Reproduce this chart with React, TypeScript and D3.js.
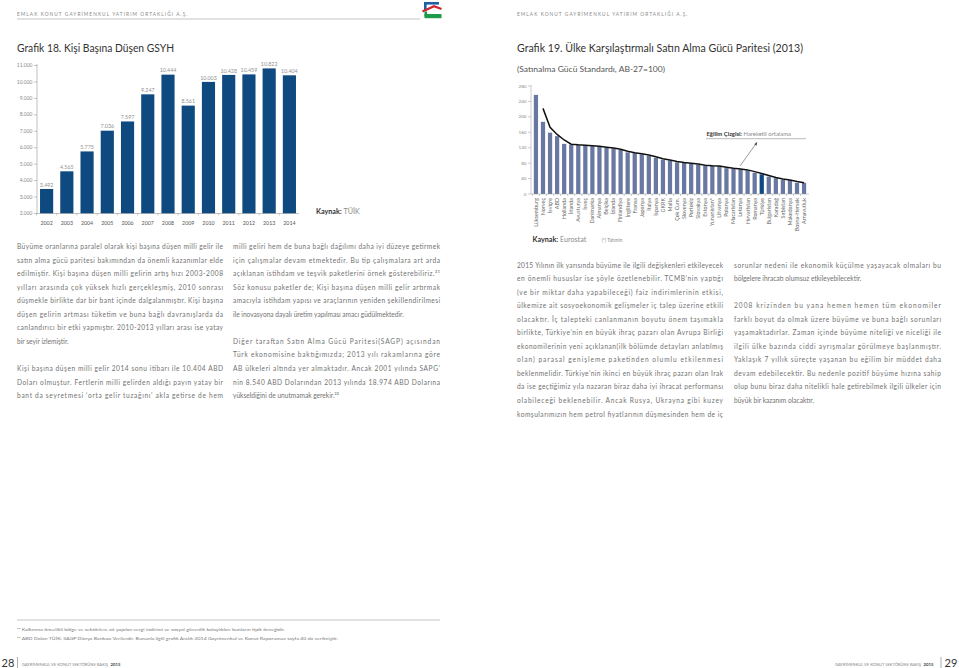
import React from 'react';
import * as d3 from 'd3';

// ---------- DATA ----------
const years = ['2002', '2003', '2004', '2005', '2006', '2007', '2008', '2009', '2010', '2011', '2012', '2013', '2014'];
const gdpPerCapita = [3492, 4565, 5775, 7036, 7597, 9247, 10444, 8561, 10003, 10428, 10459, 10822, 10404];
const gdpTicks = [2000, 3000, 4000, 5000, 6000, 7000, 8000, 9000, 10000, 11000];

const countries = ['Lüksemburg', 'Norveç', 'İsviçre', 'ABD', 'Hollanda', 'İrlanda', 'Avusturya', 'İsveç', 'Danimarka', 'Almanya', 'Belçika', 'İzlanda', 'Finlandiya', 'İngiltere', 'Fransa', 'Japonya', 'İtalya', 'İspanya', 'GKRK', 'Malta', 'Çek Cum.', 'Slovenya', 'Portekiz', 'Slovakya', 'Estonya', 'Yunanistan*', 'Litvanya', 'Polonya', 'Macaristan', 'Letonya', 'Hırvatistan', 'Romanya', 'Türkiye', 'Bulgaristan', 'Karadağ', 'Sırbistan', 'Makedonya', 'Bosna-Hersek', 'Arnavutluk'];
const ppsValues = [257, 187, 159, 150, 130, 128, 127, 126, 124, 123, 120, 118, 114, 108, 106, 103, 99, 94, 89, 87, 82, 81, 79, 76, 73, 73, 72, 67, 66, 64, 61, 55, 51, 45, 41, 37, 36, 29, 29];
const ppsTicks = [0, 40, 80, 120, 160, 200, 240, 280];
const highlightCountry = 'Türkiye';

const col1 = [
  ['Büyüme oranlarına paralel olarak kişi başına düşen milli gelir ile',
    'satın alma gücü paritesi bakımından da önemli kazanımlar elde',
    'edilmiştir. Kişi başına düşen milli gelirin artış hızı 2003-2008',
    'yılları arasında çok yüksek hızlı gerçekleşmiş, 2010 sonrası',
    'düşmekle birlikte dar bir bant içinde dalgalanmıştır. Kişi başına',
    'düşen gelirin artması tüketim ve buna bağlı davranışlarda da',
    'canlandırıcı bir etki yapmıştır. 2010-2013 yılları arası ise yatay',
    'bir seyir izlemiştir.'],
  ['Kişi başına düşen milli gelir 2014 sonu itibarı ile 10.404 ABD',
    'Doları olmuştur. Fertlerin milli gelirden aldığı payın yatay bir',
    'bant da seyretmesi \u2018orta gelir tuzağını\u2019 akla getirse de hem', '+'],
];
const col2 = [
  ['milli geliri hem de buna bağlı dağılımı daha iyi düzeye getirmek',
    'için çalışmalar devam etmektedir. Bu tip çalışmalara art arda',
    'açıklanan istihdam ve teşvik paketlerini örnek gösterebiliriz.²¹',
    'Söz konusu paketler de; Kişi başına düşen milli gelir artırmak',
    'amacıyla istihdam yapısı ve araçlarının yeniden şekillendirilmesi',
    'ile inovasyona dayalı üretim yapılması amacı güdülmektedir.'],
  ['Diğer taraftan Satın Alma Gücü Paritesi(SAGP) açısından',
    'Türk ekonomisine baktığımızda; 2013 yılı rakamlarına göre',
    'AB ülkeleri altında yer almaktadır. Ancak 2001 yılında SAPG\u2019',
    'nin 8.540 ABD Dolarından 2013 yılında 18.974 ABD Dolarına',
    'yükseldiğini de unutmamak gerekir.²²'],
];
const col3 = [
  ['2015 Yılının ilk yarısında büyüme ile ilgili değişkenleri etkileyecek',
    'en önemli hususlar ise şöyle özetlenebilir. TCMB\u2019nin yaptığı',
    '(ve bir miktar daha yapabileceği) faiz indirimlerinin etkisi,',
    'ülkemize ait sosyoekonomik gelişmeler iç talep üzerine etkili',
    'olacaktır. İç talepteki canlanmanın boyutu önem taşımakla',
    'birlikte, Türkiye\u2019nin en büyük ihraç pazarı olan Avrupa Birliği',
    'ekonomilerinin yeni açıklanan(ilk bölümde detayları anlatılmış',
    'olan) parasal genişleme paketinden olumlu etkilenmesi',
    'beklenmelidir. Türkiye\u2019nin ikinci en büyük ihraç pazarı olan Irak',
    'da ise geçtiğimiz yıla nazaran biraz daha iyi ihracat performansı',
    'olabileceği beklenebilir. Ancak Rusya, Ukrayna gibi kuzey',
    'komşularımızın hem petrol fiyatlarının düşmesinden hem de iç', '+'],
];
const col4 = [
  ['sorunlar nedeni ile ekonomik küçülme yaşayacak olmaları bu',
    'bölgelere ihracatı olumsuz etkileyebilecektir.'],
  ['2008 krizinden bu yana hemen hemen tüm ekonomiler',
    'farklı boyut da olmak üzere büyüme ve buna bağlı sorunları',
    'yaşamaktadırlar. Zaman içinde büyüme niteliği ve niceliği ile',
    'ilgili ülke bazında ciddi ayrışmalar görülmeye başlanmıştır.',
    'Yaklaşık 7 yıllık süreçte yaşanan bu eğilim bir müddet daha',
    'devam edebilecektir. Bu nedenle pozitif büyüme hızına sahip',
    'olup bunu biraz daha nitelikli hale getirebilmek ilgili ülkeler için',
    'büyük bir kazanım olacaktır.'],
];
const footnotes = [
  '²¹ Kalkınma öncelikli bölge ve sektörlere ait yapılan vergi indirimi ve sosyal güvenlik kolaylıkları bunların tipik örneğidir.',
  '²² ABD Doları TÜİK; SAGP Dünya Bankası Verilerdir. Bununla ilgili grafik Aralık-2014 Gayrimenkul ve Konut Raporumuz sayfa 40 da verilmiştir.',
];

const FONT = 'Lato, "Open Sans", sans-serif';
const fmt = d3.formatLocale({ decimal: ',', thousands: '.', grouping: [3], currency: ['', ''] }).format(',d');

function TextColumn({ paras, x, width, y0, lh }: { paras: string[][]; x: number; width: number; y0: number; lh: number }) {
  const out: React.ReactNode[] = [];
  let k = 0;
  paras.forEach((p, pi) => {
    const cont = p[p.length - 1] === '+';
    const lines = cont ? p.slice(0, -1) : p;
    lines.forEach((ln, li) => {
      const last = li === lines.length - 1 && !cont;
      out.push(
        <text key={pi + '-' + li} x={x} y={y0 + k * lh} fontSize={6.6} fill="#727272"
          {...(last ? {} : { textLength: width, lengthAdjust: 'spacing' })}>{ln}</text>
      );
      k++;
    });
    k++;
  });
  return <g fontFamily={FONT}>{out}</g>;
}

function Chart18() {
  const x = d3.scaleBand<string>().domain(years).range([38, 298]).paddingInner(0.35).paddingOuter(0.1);
  const y = d3.scaleLinear().domain([2000, 11000]).range([213.5, 65.5]);
  return (
    <g fontFamily={FONT}>
      {gdpTicks.map(t => (
        <g key={t}>
          <line x1={34} x2={37} y1={y(t)} y2={y(t)} stroke="#999" strokeWidth={0.6} />
          <text x={32.5} y={y(t)} dy="0.33em" textAnchor="end" fontSize={5} fill="#8a8a8a">{fmt(t)}</text>
        </g>
      ))}
      {years.map((yr, i) => (
        <g key={yr}>
          <rect x={x(yr)} y={y(gdpPerCapita[i])} width={x.bandwidth()} height={y(2000) - y(gdpPerCapita[i])} fill="#0e4a80" />
          <text x={(x(yr) as number) + x.bandwidth() / 2} y={y(gdpPerCapita[i]) - 2.2} textAnchor="middle" fontSize={5.3} fill="#8f8f8f">{fmt(gdpPerCapita[i])}</text>
          <text x={(x(yr) as number) + x.bandwidth() / 2} y={225} textAnchor="middle" fontSize={5.3} fill="#555">{yr}</text>
          <line x1={(x(yr) as number) - x.step() * x.paddingInner() / 2} x2={(x(yr) as number) - x.step() * x.paddingInner() / 2} y1={213.5} y2={215.5} stroke="#999" strokeWidth={0.5} />
        </g>
      ))}
      <line x1={37} x2={37} y1={64} y2={213.5} stroke="#999" strokeWidth={0.6} />
      <line x1={37} x2={299} y1={213.5} y2={213.5} stroke="#999" strokeWidth={0.6} />
      <text x={316} y={214} fontSize={7.2}>
        <tspan fontWeight="bold" fill="#333">Kaynak: </tspan><tspan fill="#8a8a8a">TÜİK</tspan>
      </text>
    </g>
  );
}

function Chart19() {
  const x = d3.scaleBand<string>().domain(countries).range([531, 809]).padding(0.4);
  const y = d3.scaleLinear().domain([0, 280]).range([194, 86]);
  const cx = (c: string) => (x(c) as number) + x.bandwidth() / 2;
  const ma = countries.slice(1).map((c, i) => [cx(c), y((ppsValues[i] + ppsValues[i + 1]) / 2)] as [number, number]);
  const line = d3.line().curve(d3.curveLinear)(ma) as string;
  return (
    <g fontFamily={FONT}>
      {ppsTicks.map(t => (
        <g key={t}>
          <line x1={528} x2={531} y1={y(t)} y2={y(t)} stroke="#999" strokeWidth={0.5} />
          <text x={526.5} y={y(t)} dy="0.33em" textAnchor="end" fontSize={4.6} fill="#8a8a8a">{t}</text>
        </g>
      ))}
      {countries.map((c, i) => (
        <g key={c}>
          <rect x={x(c)} y={y(ppsValues[i])} width={x.bandwidth()} height={y(0) - y(ppsValues[i])} fill={c === highlightCountry ? '#0e4a80' : '#6878a2'} />
          <line x1={(x(c) as number) - 1.4} x2={(x(c) as number) - 1.4} y1={194} y2={196} stroke="#999" strokeWidth={0.5} />
          <text transform={`translate(${cx(c)},198) rotate(-90)`} dy="0.35em" textAnchor="end" fontSize={5.4} fill="#666">{c}</text>
        </g>
      ))}
      <line x1={531} x2={531} y1={85} y2={194} stroke="#999" strokeWidth={0.5} />
      <line x1={531} x2={809} y1={194} y2={194} stroke="#999" strokeWidth={0.5} />
      <path d={line} fill="none" stroke="#111" strokeWidth={1.5} />
      <text x={706.5} y={136} fontSize={5.9}>
        <tspan fontWeight="bold" fill="#333">Eğilim Çizgisi: </tspan><tspan fill="#8a8a8a">Hareketli ortalama</tspan>
      </text>
      <line x1={706} x2={806} y1={138.7} y2={138.7} stroke="#777" strokeWidth={0.5} />
      <line x1={740} y1={166} x2={756.5} y2={143} stroke="#555" strokeWidth={0.6} />
      <path d="M757.3,141.8 L754.2,144.2 L756.6,145.8 Z" fill="#555" />
      <text x={532.5} y={242} fontSize={7.2}>
        <tspan fontWeight="bold" fill="#333">Kaynak: </tspan><tspan fill="#8a8a8a">Eurostat</tspan>
      </text>
      <text x={601.5} y={241.5} fontSize={4.8} fill="#8a8a8a">(*) Tahmin</text>
    </g>
  );
}

export default function App() {
  return (
    <svg width={959} height={668} style={{ position: 'absolute', left: 0, top: 0, display: 'block', background: '#fff' }}>
      <rect x={0} y={0} width={959} height={668} fill="#fff" />
      {/* headers */}
      <g fontFamily={FONT} fontSize={4.8} fill="#8a8a8a" letterSpacing={1.05}>
        <text x={17} y={15.5}>EMLAK KONUT GAYRİMENKUL YATIRIM ORTAKLIĞI A.Ş.</text>
        <text x={517} y={15.5}>EMLAK KONUT GAYRİMENKUL YATIRIM ORTAKLIĞI A.Ş.</text>
      </g>
      <line x1={17} x2={420} y1={19} y2={19} stroke="#9a9a9a" strokeWidth={0.6} />
      <g>
        <rect x={424} y={2} width={15} height={2.6} fill="#1f5fa8" />
        <rect x={424} y={2} width={2.6} height={8} fill="#1f5fa8" />
        <path d="M422.5,11.5 L434,6.2 L441.5,9" fill="none" stroke="#d2232a" strokeWidth={2.2} />
        <rect x={424.5} y={14} width={17} height={4.2} fill="#1e9a4b" />
        <rect x={424.5} y={11.5} width={2.6} height={5} fill="#1e9a4b" />
      </g>
      {/* titles */}
      <g fontFamily={FONT} fill="#333">
        <text x={17} y={52} fontSize={11} textLength={157} lengthAdjust="spacingAndGlyphs">Grafik 18. Kişi Başına Düşen GSYH</text>
        <text x={517} y={51.5} fontSize={11} textLength={286} lengthAdjust="spacingAndGlyphs">Grafik 19. Ülke Karşılaştırmalı Satın Alma Gücü Paritesi (2013)</text>
        <text x={517} y={71.5} fontSize={8} fill="#555" textLength={148} lengthAdjust="spacingAndGlyphs">(Satınalma Gücü Standardı, AB-27=100)</text>
      </g>
      <Chart18 />
      <Chart19 />
      <TextColumn paras={col1} x={17} width={206} y0={249} lh={13.55} />
      <TextColumn paras={col2} x={233} width={207} y0={249} lh={13.55} />
      <TextColumn paras={col3} x={517} width={206} y0={267.5} lh={13.55} />
      <TextColumn paras={col4} x={734} width={207} y0={267.5} lh={13.55} />
      {/* footnotes */}
      <line x1={17} x2={440} y1={620} y2={620} stroke="#9a9a9a" strokeWidth={0.6} />
      <g fontFamily={FONT} fontSize={4.6} fill="#7a7a7a">
        <text x={17} y={630.5} textLength={268} lengthAdjust="spacingAndGlyphs">{footnotes[0]}</text>
        <text x={17} y={640} textLength={321} lengthAdjust="spacingAndGlyphs">{footnotes[1]}</text>
      </g>
      {/* page footers */}
      <g fontFamily={FONT}>
        <text x={1.5} y={667} fontSize={11} fill="#333">28</text>
        <line x1={17.5} x2={17.5} y1={657} y2={668} stroke="#777" strokeWidth={0.6} />
        <text x={22} y={666} fontSize={3.9} fill="#888" textLength={86} lengthAdjust="spacingAndGlyphs">GAYRİMENKUL VE KONUT SEKTÖRÜNE BAKIŞ</text>
        <text x={110.5} y={666} fontSize={4.3} fill="#444" fontWeight="bold">2015</text>
        <text x={835} y={666} fontSize={3.9} fill="#888" textLength={86} lengthAdjust="spacingAndGlyphs">GAYRİMENKUL VE KONUT SEKTÖRÜNE BAKIŞ</text>
        <text x={923.5} y={666} fontSize={4.3} fill="#444" fontWeight="bold">2015</text>
        <line x1={941} x2={941} y1={657} y2={668} stroke="#777" strokeWidth={0.6} />
        <text x={944.5} y={667} fontSize={11} fill="#333">29</text>
      </g>
    </svg>
  );
}
